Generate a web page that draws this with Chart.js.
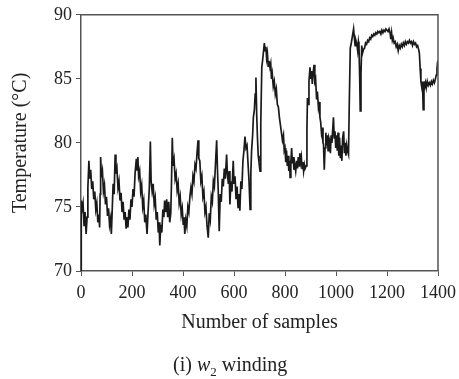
<!DOCTYPE html>
<html>
<head>
<meta charset="utf-8">
<script src="https://cdn.jsdelivr.net/npm/chart.js@4"></script>
<style>
  html, body { margin: 0; padding: 0; background: #fff; }
  #wrap { position: relative; width: 459px; height: 379px; }
  #caption { position: absolute; left: 173px; top: 352px; line-height: 24px; white-space: nowrap;
             font-family: 'Liberation Serif', serif; font-size: 20px; color: #222; }
  #caption sub { font-size: 13px; }
</style>
</head>
<body>
<div id="wrap">
  <canvas id="chart" width="459" height="379"></canvas>
  <div id="caption">(i) <i>w</i><sub>2</sub> winding</div>
</div>
<script>
// sample index and temperature (°C)
const samples = [
  0, 1, 4, 8, 12, 16, 20, 24, 27, 31, 34, 38, 42, 46, 50, 54, 58, 62, 66, 70, 73, 75, 77, 80, 84, 88, 92, 96, 100,
  104, 108, 112, 116, 119, 122, 126, 130, 134, 137, 141, 145, 149, 153, 157, 161, 165, 169, 173, 177, 181, 184,
  188, 192, 196, 200, 204, 208, 212, 217, 220, 223, 226, 230, 234, 238, 242, 246, 250, 254, 259, 263, 268, 272,
  275, 279, 283, 287, 291, 295, 299, 303, 306, 309, 313, 317, 321, 325, 328, 332, 336, 340, 344, 348, 352, 355,
  358, 361, 365, 369, 373, 377, 381, 385, 389, 393, 397, 401, 404, 407, 411, 415, 419, 423, 427, 431, 435, 439,
  443, 447, 451, 455, 459, 462, 466, 470, 474, 478, 482, 486, 490, 494, 499, 503, 507, 511, 515, 519, 523, 527,
  532, 535, 538, 542, 546, 550, 554, 558, 562, 566, 571, 574, 578, 581, 584, 588, 592, 597, 600, 604, 608, 612,
  616, 620, 623, 627, 631, 635, 639, 643, 647, 651, 655, 659, 663, 666, 669, 673, 676, 680, 683, 686, 689, 692,
  695, 698, 702, 705, 709, 713, 716, 719, 722, 725, 728, 731, 734, 737, 741, 744, 747, 750, 754, 758, 762, 766,
  770, 774, 778, 782, 786, 790, 794, 797, 800, 803, 806, 809, 812, 815, 818, 820, 823, 826, 829, 832, 835, 838,
  842, 846, 849, 852, 855, 858, 861, 864, 867, 870, 873, 876, 879, 883, 886, 888, 891, 894, 898, 901, 904, 907,
  910, 914, 917, 920, 924, 927, 931, 934, 937, 940, 943, 946, 949, 951, 954, 957, 960, 963, 966, 969, 972, 975,
  978, 981, 984, 987, 990, 993, 996, 999, 1002, 1005, 1008, 1011, 1014, 1017, 1020, 1023, 1026, 1030, 1033, 1036,
  1039, 1042, 1045, 1049, 1052, 1056, 1060, 1064, 1069, 1072, 1075, 1078, 1082, 1085, 1088, 1090, 1093, 1095,
  1098, 1101, 1104, 1108, 1112, 1116, 1120, 1124, 1128, 1132, 1136, 1140, 1144, 1148, 1152, 1156, 1160, 1164,
  1168, 1172, 1176, 1180, 1184, 1188, 1192, 1196, 1200, 1204, 1208, 1212, 1215, 1218, 1221, 1224, 1228, 1232,
  1236, 1240, 1244, 1248, 1252, 1256, 1260, 1264, 1268, 1272, 1276, 1280, 1284, 1288, 1292, 1296, 1300, 1304,
  1308, 1312, 1316, 1320, 1324, 1327, 1330, 1333, 1336, 1339, 1342, 1345, 1348, 1351, 1354, 1358, 1362, 1366,
  1370, 1374, 1378, 1382, 1386, 1390, 1393, 1396, 1399, 1400
];
const temps = [
  70, 75.5, 74.8, 75.3, 73.5, 74.6, 72.9, 74.2, 76.5, 78.6, 77.2, 77.9, 76.4, 77.0, 75.6, 76.2, 74.8, 75.3, 73.8, 74.4, 73.4, 76.0, 78.9, 77.3, 77.8, 76.2, 76.7, 75.2, 75.8,
  74.3, 74.9, 73.6, 74.1, 72.9, 74.5, 76.8, 76.0, 79.1, 77.6, 78.0, 76.5, 77.0, 75.5, 76.1, 74.6, 75.4, 74.0, 74.6, 73.3, 74.2, 73.4,
  74.8, 74.0, 75.6, 75.0, 76.4, 75.8, 77.6, 78.75, 77.9, 78.9, 77.4, 77.8, 76.2, 76.7, 75.0, 75.5, 73.8, 74.4, 72.9, 74.6, 76.5, 80.1,
  77.0, 76.2, 76.8, 75.2, 75.7, 74.0, 74.6, 73.0, 73.8, 72.0, 73.6, 73.0, 74.8, 74.2, 75.5, 74.6, 75.6, 74.2, 75.4, 73.8, 74.5, 77.0,
  80.4, 78.2, 78.7, 77.2, 77.6, 76.3, 76.8, 75.3, 75.8, 74.4, 74.9, 73.6, 74.2, 72.9, 74.0, 73.5, 75.0, 74.6, 75.8, 76.5, 76.0, 77.4,
  77.0, 78.3, 78.0, 79.2, 80.2, 78.8, 78.6, 77.0, 77.4, 75.8, 76.2, 74.6, 75.0, 73.6, 72.6, 74.5, 74.0, 75.8, 75.4, 77.0, 76.6, 78.2,
  80.2, 78.0, 76.4, 73.1, 76.0, 75.4, 77.2, 76.6, 78.0, 77.2, 79.1, 77.6, 76.8, 77.8, 75.2, 77.0, 76.2, 78.6, 76.8, 77.4, 75.6, 76.6,
  74.9, 76.0, 74.7, 77.0, 76.4, 78.6, 79.4, 80.5, 79.6, 79.8, 78.4, 77.0, 74.8, 77.6, 79.4, 80.6, 82.0, 82.6, 83.8, 85.1, 82.2, 80.4,
  79.0, 78.5, 77.8, 81.5, 85.9, 86.6, 87.2, 87.8, 87.2, 87.5, 86.6, 87.0, 86.0, 86.4, 85.9, 86.2, 85.0, 85.4, 84.4, 84.8, 83.8, 84.2,
  83.0, 82.8, 82.0, 81.4, 80.8, 80.2, 80.6, 79.4, 79.6, 78.5, 79.4, 78.2, 79.0, 77.8, 78.6, 77.3, 78.5, 79.6, 78.4, 78.9, 77.9, 78.4,
  77.8, 78.6, 78.0, 78.9, 78.2, 79.2, 78.5, 78.9, 78.0, 78.5, 77.8, 78.3, 78.0, 78.2, 81.0, 83.5, 83.0, 84.8, 85.9, 85.0, 85.6, 84.6,
  85.4, 86.1, 84.8, 85.0, 83.4, 84.0, 82.8, 83.2, 82.0, 81.6, 80.8, 81.2, 80.0, 79.9, 77.9, 79.6, 80.8, 79.8, 80.6, 79.4, 80.4, 80.2,
  79.2, 80.6, 80.0, 81.0, 82.0, 80.4, 80.9, 79.6, 80.6, 79.4, 80.8, 79.0, 80.4, 78.8, 79.8, 78.6, 80.4, 80.9, 79.2, 80.0,
  79.0, 79.8, 79.4, 79.1, 83.0, 87.4, 87.8, 88.3, 88.9, 88.2, 87.6, 88.0, 87.7, 87.2, 87.9, 87.6, 85.0, 82.5,
  85.4, 87.6, 87.0, 87.3, 87.4, 87.8, 87.7, 88.0, 87.9, 88.2, 88.1, 88.4, 88.3, 88.5, 88.4, 88.6, 88.5, 88.7,
  88.6, 88.7, 88.5, 88.8, 88.6, 88.8, 88.7, 88.9, 88.8, 88.7, 88.9, 88.6, 88.1, 88.6, 88.0, 88.2, 87.8, 87.9,
  87.5, 87.7, 87.2, 87.6, 87.4, 87.7, 87.5, 87.8, 87.6, 87.9, 87.7, 87.9, 87.8, 88.0, 87.8, 87.9, 87.6, 87.9,
  87.7, 87.8, 87.5, 87.6, 87.3, 87.0, 85.8, 84.8, 84.4, 84.8, 82.6, 84.8, 84.4, 84.7, 84.3, 84.8, 84.5, 84.7,
  84.5, 84.8, 84.6, 84.9, 84.7, 85.0, 85.3, 85.8, 86.4, 86.0
];
const xTicks = [0, 200, 400, 600, 800, 1000, 1200, 1400];
const yTicks = [70, 75, 80, 85, 90];

const points = samples.map((s, i) => ({ x: s, y: temps[i] }));
const serif = "'Liberation Serif', 'DejaVu Serif', serif";
const axisGray = '#555';

// frame on top and right side
const frame = {
  id: 'frame',
  afterDraw(chart) {
    const { ctx, chartArea: a } = chart;
    ctx.save();
    ctx.strokeStyle = axisGray;
    ctx.lineWidth = 1.5;
    ctx.beginPath();
    ctx.moveTo(a.left, a.top);
    ctx.lineTo(a.right, a.top);
    ctx.lineTo(a.right, a.bottom);
    ctx.stroke();
    ctx.restore();
  }
};

new Chart(document.getElementById('chart'), {
  type: 'line',
  data: {
    datasets: [{
      data: points,
      borderColor: '#1a1a1a',
      borderWidth: 1.7,
      pointRadius: 0,
      tension: 0,
      fill: false
    }]
  },
  options: {
    responsive: false,
    animation: false,
    layout: { padding: { top: 14, right: 21, bottom: 44, left: 0 } },
    plugins: { legend: { display: false }, tooltip: { enabled: false } },
    scales: {
      x: {
        type: 'linear',
        min: 0, max: 1400,
        afterBuildTicks: s => { s.ticks = xTicks.map(v => ({ value: v })); },
        afterFit: s => { s.height = 64; s.paddingRight = 0; s.paddingLeft = 0; },
        ticks: { font: { family: serif, size: 18 }, color: '#222', padding: 6, maxRotation: 0,
                 callback: v => String(v) },
        grid: { display: true, drawOnChartArea: false, drawTicks: true, tickLength: 5, color: axisGray },
        border: { color: axisGray, width: 1.5 },
        title: { display: true, text: 'Number of samples', font: { family: serif, size: 20 }, color: '#222',
                 padding: { top: 7, bottom: 0 } }
      },
      y: {
        min: 70, max: 90,
        afterBuildTicks: s => { s.ticks = yTicks.map(v => ({ value: v })); },
        afterFit: s => { s.width = 81; },
        ticks: { font: { family: serif, size: 18 }, color: '#222', padding: 4, callback: v => String(v) },
        grid: { display: true, drawOnChartArea: false, drawTicks: true, tickLength: 5, color: axisGray },
        border: { color: axisGray, width: 1.5 },
        title: { display: true, text: 'Temperature (°C)', font: { family: serif, size: 20 }, color: '#222',
                 padding: { top: 9, bottom: 0 } }
      }
    }
  },
  plugins: [frame]
});
</script>
</body>
</html>
